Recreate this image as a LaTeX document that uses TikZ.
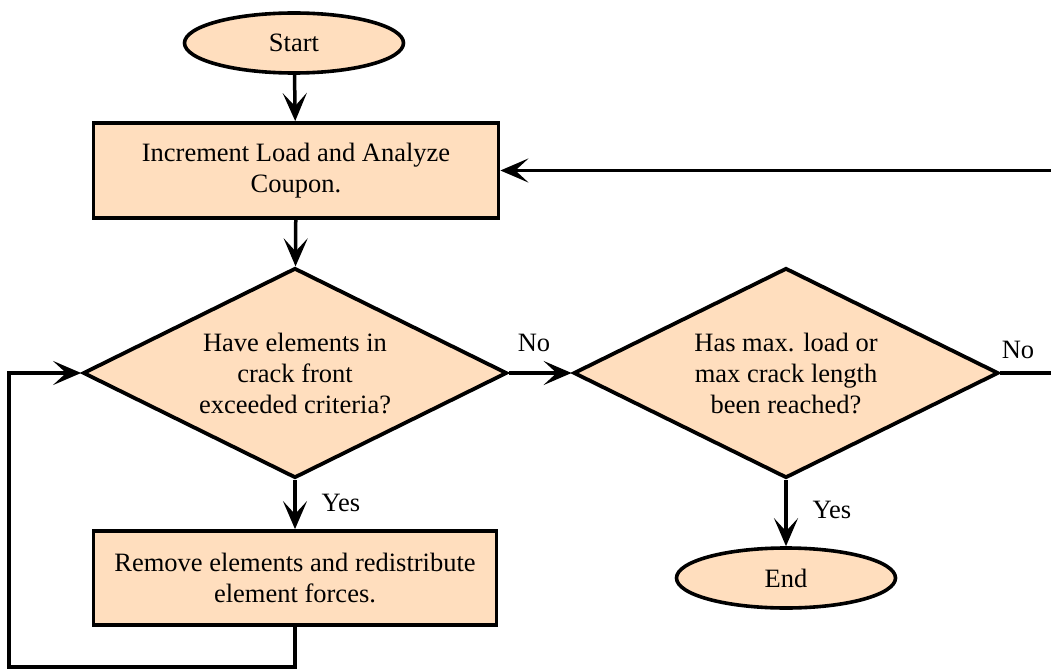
\documentclass[tikz,border=0pt]{standalone}
\usepackage{fontspec}
\setmainfont{Liberation Serif}
\newfontfamily\tnr{Liberation Serif}
\usetikzlibrary{shapes.geometric,arrows.meta}
\definecolor{peach}{RGB}{255,222,190}
\tikzset{
  every node/.style={font=\tnr\fontsize{26.5}{31}\selectfont},
  term/.style={ellipse,draw,fill=peach,line width=3.6pt,minimum width=219pt,minimum height=60pt,inner sep=0pt},
  proc/.style={rectangle,draw,fill=peach,line width=3.8pt,minimum width=405pt,minimum height=95pt,align=center,inner sep=0pt},
  dec/.style={diamond,draw,fill=peach,line width=3.8pt,minimum width=424pt,minimum height=210pt,inner sep=0pt,align=center,aspect=2.02},
  conn/.style={line width=3.5pt,-{Stealth[length=28pt,width=24pt,inset=13pt]}},
  plain/.style={line width=3.5pt},
  lbl/.style={inner sep=0pt}
}
\begin{document}
\begin{tikzpicture}[x=1pt,y=-1pt]
\useasboundingbox (0,0) rectangle (1051,671);
\node[term] (start) at (294,43) {Start};
\node[proc] (inc) at (296,170.5) {Increment Load and Analyze\\Coupon.};
\node[dec] (d1) at (295,373) {Have elements in\\crack front\\exceeded criteria?};
\node[proc,minimum width=403pt,minimum height=94pt] (rem) at (295,578) {Remove elements and redistribute\\element forces.};
\node[dec,minimum width=425pt] (d2) at (786,373) {Has max. load or\\max crack length\\been reached?};
\node[term] (end) at (786,578) {End};
\coordinate (r1) at (1052,373);
\coordinate (r2) at (1052,170.5);
\coordinate (lb) at (9,667);
\draw[conn] (start) -- (inc);
\draw[conn] (inc) -- (d1);
\draw[conn] (d1) -- (rem);
\draw[conn] (rem.south) |- (lb) |- (d1.west);
\draw[conn] (d1.east) -- (d2.west);
\draw[conn] (d2) -- (end);
\draw[plain] (d2.east) -- (r1);
\draw[conn] (r2) -- (inc.east);
\node[lbl] (no1) at (534,343) {No};
\node[lbl] (no2) at (1018,350) {No};
\node[lbl] (yes1) at (341,503) {Yes};
\node[lbl] (yes2) at (832,510) {Yes};
\end{tikzpicture}
\end{document}
